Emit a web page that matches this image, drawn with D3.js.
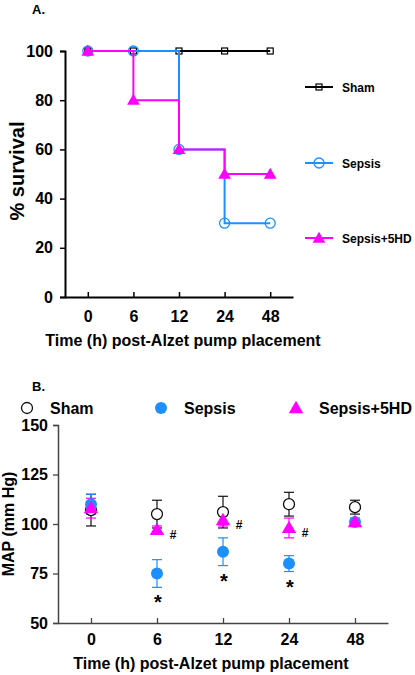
<!DOCTYPE html>
<html><head><meta charset="utf-8">
<script src="https://cdn.jsdelivr.net/npm/d3@7"></script>
<style>
html,body{margin:0;padding:0;background:#fff;}
text{font-family:"Liberation Sans",Arial,sans-serif;font-weight:bold;}
</style></head>
<body><svg id="chart" width="415" height="675"></svg>
<script>
// ---------- data ----------
const times = ["0","6","12","24","48"];
const seriesNames = ["Sham","Sepsis","Sepsis+5HD"];
// Panel A: % survival
const survSham   = [100,100,100,100,100];
const survSepsis = [100,100,60,30,30];
const surv5HD    = [100,80,60,50,50];
const survTicks  = [0,20,40,60,80,100];
// Panel B: MAP (mm Hg), mean and error
const mapSham      = [107,105,106,110,108.5];
const mapShamErr   = [8,7,8,6,3.5];
const mapSepsis    = [110,75,86,80,101];
const mapSepsisErr = [5,7,7,4,2];
const map5HD       = [108,97,102,98,101];
const map5HDErr    = [5,2,3,5,1];
const mapTicks     = [50,75,100,125,150];
const starMarks    = ["","*","*","*",""];
const hashMarks    = ["","#","#","#",""];

const BLUE="#1e8fff", MAG="#ff00ff", BLK="#000";
const svg = d3.select("#chart");

// ================= Panel A =================
const gA = svg.append("g");
gA.append("text").attr("x",32).attr("y",14).attr("font-size",13).text("A.");
const xA = d3.scalePoint().domain(times).range([65,293]).padding(0.5);
const yA = d3.scaleLinear().domain([0,100]).range([297,51]);

const axAy = gA.append("g").attr("transform","translate(65,0)")
  .call(d3.axisLeft(yA).tickValues(survTicks).tickSize(5).tickPadding(7));
const axAx = gA.append("g").attr("transform","translate(0,297)")
  .call(d3.axisBottom(xA).tickSizeInner(-5).tickSizeOuter(0).tickPadding(14));
[axAy,axAx].forEach(a=>{
  a.select(".domain").attr("stroke",BLK).attr("stroke-width",2);
  a.selectAll(".tick line").attr("stroke",BLK).attr("stroke-width",1.5);
  a.selectAll("text").attr("font-size",16).attr("fill",BLK).attr("font-family",'"Liberation Sans",Arial,sans-serif').attr("font-weight","bold");
});
gA.append("text").attr("x",183).attr("y",346).attr("text-anchor","middle").attr("font-size",16)
  .text("Time (h) post-Alzet pump placement");
gA.append("text").attr("transform","translate(24,171) rotate(-90)").attr("text-anchor","middle")
  .attr("font-size",20).text("% survival");

const stepLine = d3.line().x((d,i)=>xA(times[i])).y(d=>yA(d)).curve(d3.curveStepAfter);
const survSeries = [
  {vals:survSham,color:BLK,sym:"square"},
  {vals:survSepsis,color:BLUE,sym:"circle"},
  {vals:surv5HD,color:MAG,sym:"triangle"}
];
function drawSym(g,sym,color,x,y,big){
  if(sym==="square"){
    g.append("rect").attr("x",x-3).attr("y",y-3).attr("width",6).attr("height",6)
      .attr("fill","none").attr("stroke",color).attr("stroke-width",1.2);
  } else if(sym==="circle"){
    g.append("circle").attr("cx",x).attr("cy",y).attr("r",5)
      .attr("fill","none").attr("stroke",color).attr("stroke-width",1.3);
  } else if(sym==="triangle"){
    g.append("path").attr("d",d3.symbol().type(d3.symbolTriangle).size(big||70)())
      .attr("transform",`translate(${x},${y+1})`).attr("fill",color);
  } else if(sym==="ocircle"){
    g.append("circle").attr("cx",x).attr("cy",y).attr("r",5.5)
      .attr("fill","#fff").attr("stroke","#111").attr("stroke-width",1.3);
  } else if(sym==="fcircle"){
    g.append("circle").attr("cx",x).attr("cy",y).attr("r",6).attr("fill",color);
  }
}
survSeries.forEach(s=>{
  gA.append("path").attr("d",stepLine(s.vals)).attr("fill","none")
    .attr("stroke",s.color).attr("stroke-width",2);
  s.vals.forEach((v,i)=>drawSym(gA,s.sym,s.color,xA(times[i]),yA(v)));
});
// legend A
const legAy=[87,163,238];
survSeries.forEach((s,k)=>{
  const y=legAy[k];
  gA.append("line").attr("x1",305).attr("x2",333).attr("y1",y).attr("y2",y)
    .attr("stroke",s.color).attr("stroke-width",2);
  drawSym(gA,s.sym,s.color,319,y);
  gA.append("text").attr("x",342).attr("y",y+4.5).attr("font-size",12).text(seriesNames[k]);
});

// ================= Panel B =================
const gB = svg.append("g");
gB.append("text").attr("x",32).attr("y",391).attr("font-size",13).text("B.");
const xB = d3.scalePoint().domain(times).range([58,388]).padding(0.5);
const yB = d3.scaleLinear().domain([50,150]).range([623,425]);
const axBy = gB.append("g").attr("transform","translate(58,0)")
  .call(d3.axisLeft(yB).tickValues(mapTicks).tickSize(5).tickPadding(5));
const axBx = gB.append("g").attr("transform","translate(0,623)")
  .call(d3.axisBottom(xB).tickSizeInner(-5).tickSizeOuter(0).tickPadding(11));
[axBy,axBx].forEach(a=>{
  a.select(".domain").attr("stroke","#444").attr("stroke-width",1.5);
  a.selectAll(".tick line").attr("stroke","#444").attr("stroke-width",1.3);
  a.selectAll("text").attr("font-size",16).attr("fill",BLK).attr("font-family",'"Liberation Sans",Arial,sans-serif').attr("font-weight","bold");
});
gB.append("text").attr("x",211).attr("y",669).attr("text-anchor","middle").attr("font-size",16)
  .text("Time (h) post-Alzet pump placement");
gB.append("text").attr("transform","translate(14,524) rotate(-90)").attr("text-anchor","middle")
  .attr("font-size",16).text("MAP (mm Hg)");

// legend B
const legB=[{x:27,sym:"ocircle",color:"#111"},{x:161,sym:"fcircle",color:BLUE},{x:296,sym:"triangle",color:MAG}];
legB.forEach((l,k)=>{
  drawSym(gB,l.sym,l.color,l.x,408,90);
  gB.append("text").attr("x",l.x+23).attr("y",414).attr("font-size",16).text(seriesNames[k]);
});

const mapSeries=[
  {vals:mapSham,err:mapShamErr,color:"#111",sym:"ocircle"},
  {vals:mapSepsis,err:mapSepsisErr,color:BLUE,sym:"fcircle"},
  {vals:map5HD,err:map5HDErr,color:MAG,sym:"triangle"}
];
mapSeries.forEach(s=>{
  s.vals.forEach((v,i)=>{
    const x=xB(times[i]), hi=yB(v+s.err[i]), lo=yB(v-s.err[i]);
    gB.append("line").attr("x1",x).attr("x2",x).attr("y1",hi).attr("y2",lo)
      .attr("stroke",s.color).attr("stroke-width",1.2);
    [hi,lo].forEach(yy=>gB.append("line").attr("x1",x-5).attr("x2",x+5).attr("y1",yy).attr("y2",yy)
      .attr("stroke",s.color).attr("stroke-width",1.2));
  });
});
mapSeries.forEach(s=>{
  s.vals.forEach((v,i)=>drawSym(gB,s.sym,s.color,xB(times[i]),yB(v),90));
});
// significance marks
starMarks.forEach((m,i)=>{
  if(!m) return;
  gB.append("text").attr("x",xB(times[i])+1).attr("y",yB(mapSepsis[i]-mapSepsisErr[i])+22)
    .attr("text-anchor","middle").attr("font-size",20).text(m);
});
hashMarks.forEach((m,i)=>{
  if(!m) return;
  gB.append("text").attr("x",xB(times[i])+16).attr("y",yB(map5HD[i])+9)
    .attr("text-anchor","middle").attr("font-size",12).text(m);
});
</script></body></html>
